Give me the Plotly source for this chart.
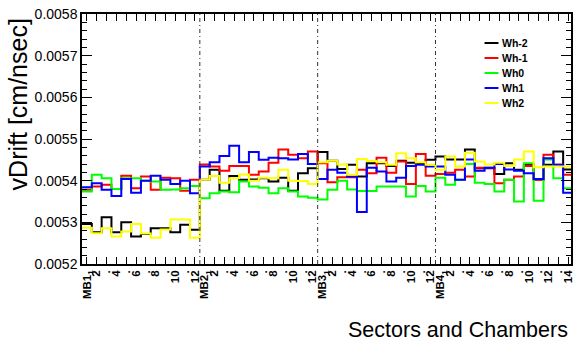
import plotly.graph_objects as go

# ---- data (vDrift in cm/nsec) ----
stations = ["MB1", "MB2", "MB3", "MB4"]
sectors_per_station = [12, 12, 12, 14]
series_names = ["Wh-2", "Wh-1", "Wh0", "Wh1", "Wh2"]
series_colors = ["#000000", "#ff0000", "#00ff00", "#0000ff", "#ffff00"]

wh_m2 = [0.005296, 0.005276, 0.005312, 0.005276, 0.005300, 0.005266, 0.005272, 0.005286, 0.005286, 0.005276, 0.005294, 0.005282,
         0.005402, 0.005426, 0.005376, 0.005411, 0.005402, 0.005403, 0.005406, 0.005398, 0.005407, 0.005376, 0.005418, 0.005430,
         0.005469, 0.005448, 0.005428, 0.005438, 0.005410, 0.005442, 0.005442, 0.005435, 0.005448, 0.005443, 0.005442, 0.005450,
         0.005458, 0.005451, 0.005451, 0.005475, 0.005430, 0.005430, 0.005416, 0.005442, 0.005426, 0.005438, 0.005403, 0.005438, 0.005470, 0.005427]
wh_m1 = [0.005378, 0.005386, 0.005390, 0.005380, 0.005412, 0.005382, 0.005410, 0.005378, 0.005407, 0.005406, 0.005376, 0.005402,
         0.005439, 0.005434, 0.005424, 0.005435, 0.005435, 0.005414, 0.005422, 0.005443, 0.005475, 0.005462, 0.005454, 0.005470,
         0.005442, 0.005396, 0.005408, 0.005408, 0.005426, 0.005418, 0.005455, 0.005419, 0.005446, 0.005392, 0.005464, 0.005412,
         0.005416, 0.005419, 0.005426, 0.005410, 0.005431, 0.005431, 0.005394, 0.005402, 0.005410, 0.005435, 0.005402, 0.005462, 0.005438, 0.005414]
wh_0 = [0.005374, 0.005414, 0.005406, 0.005380, 0.005406, 0.005406, 0.005400, 0.005398, 0.005378, 0.005379, 0.005382, 0.005387,
        0.005358, 0.005370, 0.005374, 0.005372, 0.005398, 0.005386, 0.005383, 0.005370, 0.005382, 0.005374, 0.005362, 0.005359,
        0.005355, 0.005378, 0.005400, 0.005379, 0.005375, 0.005375, 0.005386, 0.005386, 0.005386, 0.005362, 0.005387, 0.005374,
        0.005407, 0.005390, 0.005402, 0.005440, 0.005395, 0.005392, 0.005374, 0.005402, 0.005350, 0.005442, 0.005352, 0.005451, 0.005406, 0.005382]
wh_1 = [0.005384, 0.005394, 0.005378, 0.005363, 0.005404, 0.005371, 0.005400, 0.005412, 0.005402, 0.005392, 0.005400, 0.005370,
        0.005434, 0.005444, 0.005459, 0.005484, 0.005444, 0.005469, 0.005450, 0.005455, 0.005454, 0.005451, 0.005464, 0.005440,
        0.005404, 0.005426, 0.005419, 0.005410, 0.005325, 0.005431, 0.005422, 0.005398, 0.005407, 0.005435, 0.005438, 0.005434,
        0.005434, 0.005414, 0.005402, 0.005451, 0.005424, 0.005431, 0.005440, 0.005427, 0.005424, 0.005418, 0.005404, 0.005454, 0.005438, 0.005371]
wh_2 = [0.005287, 0.005274, 0.005286, 0.005266, 0.005278, 0.005296, 0.005273, 0.005263, 0.005283, 0.005307, 0.005307, 0.005263,
        0.005402, 0.005411, 0.005395, 0.005406, 0.005415, 0.005400, 0.005407, 0.005406, 0.005426, 0.005400, 0.005399, 0.005392,
        0.005444, 0.005448, 0.005439, 0.005414, 0.005452, 0.005447, 0.005444, 0.005438, 0.005466, 0.005454, 0.005444, 0.005438,
        0.005426, 0.005458, 0.005434, 0.005467, 0.005446, 0.005439, 0.005443, 0.005435, 0.005451, 0.005470, 0.005432, 0.005434, 0.005434, 0.005434]
series_values = [wh_m2, wh_m1, wh_0, wh_1, wh_2]

y_ticks = [0.0052, 0.0053, 0.0054, 0.0055, 0.0056, 0.0057, 0.0058]

# ---- tick labels ----
tick_text = []
for st, n in zip(stations, sectors_per_station):
    for s in range(1, n + 1):
        if s == 1:
            tick_text.append(f"{st}<sub>1</sub>")
        elif s % 2 == 0:
            tick_text.append(str(s))
        else:
            tick_text.append(".")
nbins = len(tick_text)
edges = list(range(nbins + 1))
centers = [i + 0.5 for i in range(nbins)]

fig = go.Figure()
for name, color, vals in zip(series_names, series_colors, series_values):
    fig.add_trace(go.Scatter(
        x=edges, y=list(vals) + [vals[-1]], mode="lines",
        line=dict(color=color, width=2, shape="hv"),
        name=name, showlegend=False, hoverinfo="skip"))

# station separators
boundaries = []
acc = 0
for n in sectors_per_station[:-1]:
    acc += n
    boundaries.append(acc)
for b in boundaries:
    fig.add_shape(type="line", xref="x", yref="paper", x0=b, x1=b, y0=0, y1=1,
                  line=dict(color="#333333", width=1, dash="4px,3px,1px,3px"))

# manual legend
W_PLOT = 492.0
H_PLOT = 250.0
leg_rows = [43, 58, 73, 88, 103]
for name, color, yy in zip(series_names, series_colors, leg_rows):
    yp = (264 - yy) / H_PLOT
    fig.add_shape(type="line", xref="paper", yref="paper",
                  x0=(487 - 82) / W_PLOT, x1=(501 - 82) / W_PLOT, y0=yp, y1=yp,
                  line=dict(color=color, width=2))
    fig.add_annotation(xref="paper", yref="paper", x=(503 - 82) / W_PLOT, y=yp,
                       text=f"<b>{name}</b>", showarrow=False, xanchor="left", yanchor="middle",
                       font=dict(family="Liberation Sans, Arial", size=10.5, color="black"))

# axis titles
fig.add_annotation(xref="paper", yref="paper", x=(18 - 82) / W_PLOT, y=(264 - 104) / H_PLOT,
                   text="vDrift [cm/nsec]", textangle=-90, showarrow=False,
                   xanchor="center", yanchor="middle",
                   font=dict(family="Liberation Sans, Arial", size=25, color="black"))
fig.add_annotation(xref="paper", yref="paper", x=(573 - 82) / W_PLOT, y=(264 - 330) / H_PLOT,
                   text="Sectors and Chambers", showarrow=False,
                   xanchor="right", yanchor="middle",
                   font=dict(family="Liberation Sans, Arial", size=21.5, color="black"))

fig.update_layout(
    width=574, height=345,
    margin=dict(l=82, r=0, t=14, b=81),
    paper_bgcolor="white", plot_bgcolor="white",
    font=dict(family="Liberation Sans, Arial", color="black"),
    showlegend=False,
)
fig.update_xaxes(
    range=[0, 49.8], showgrid=False, zeroline=False,
    showline=True, linecolor="black", linewidth=1.5, mirror="ticks",
    tickmode="array", tickvals=centers, ticktext=tick_text,
    ticks="inside", ticklen=7, tickcolor="black", tickwidth=1,
    ticklabeloverflow="allow",
    tickangle=-90, tickfont=dict(family="Liberation Sans, Arial", size=11.5, color="black", weight="bold"),
)
fig.update_yaxes(
    range=[0.0052, 0.0058], showgrid=False, zeroline=False,
    showline=True, linecolor="black", linewidth=1.5, mirror="ticks",
    tickmode="array", tickvals=y_ticks, tickformat=".4f",
    ticks="inside", ticklen=10, tickcolor="black", tickwidth=1,
    tickfont=dict(family="Liberation Sans, Arial", size=14, color="black"),
    minor=dict(ticks="inside", ticklen=5, dtick=0.00002, tick0=0.0052, tickcolor="black", showgrid=False),
)

fig.write_html("out.html")
